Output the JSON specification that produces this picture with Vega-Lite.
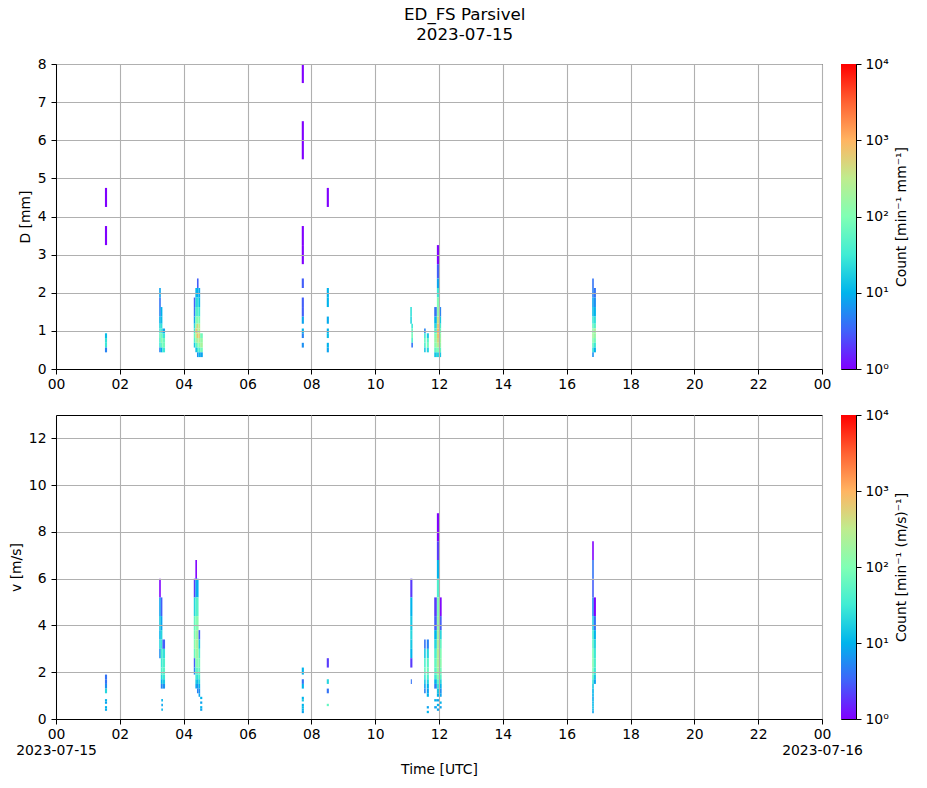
{
  "$schema": "https://vega.github.io/schema/vega-lite/v6.json",
  "padding": {"left": 8, "top": 6, "right": 10, "bottom": 8},
  "title": {"text": ["ED_FS Parsivel", "2023-07-15"], "anchor": "middle", "offset": 13, "dx": 6},
  "bounds": "flush",
  "columns": 2,
  "spacing": {"row": 46, "column": 19},
  "resolve": {"scale": {"x": "independent", "y": "independent", "color": "independent"}},
  "config": {
    "font": "DejaVu Sans",
    "view": {"stroke": "black", "strokeWidth": 1},
    "title": {"font": "DejaVu Sans", "fontSize": 16.7, "fontWeight": "normal", "color": "black", "lineHeight": 20},
    "axis": {
      "labelFont": "DejaVu Sans", "labelFontSize": 13.9, "labelColor": "black",
      "titleFont": "DejaVu Sans", "titleFontSize": 13.9, "titleFontWeight": "normal", "titleColor": "black",
      "tickColor": "black", "tickSize": 5, "domainColor": "black",
      "gridColor": "#b0b0b0", "gridWidth": 1.1, "gridOpacity": 1,
      "labelPadding": 4, "titlePadding": 5
    }
  },
  "datasets": {
    "cbar": [{"lo": 1, "hi": 10000}],
    "dsd": [
      {"t0":"2023-07-15T01:32Z","t1":"2023-07-15T01:36Z","lo":4.25,"hi":4.75,"n":1},
      {"t0":"2023-07-15T01:32Z","t1":"2023-07-15T01:36Z","lo":3.25,"hi":3.75,"n":1},
      {"t0":"2023-07-15T01:32Z","t1":"2023-07-15T01:36Z","lo":0.812,"hi":0.937,"n":12},
      {"t0":"2023-07-15T01:32Z","t1":"2023-07-15T01:36Z","lo":0.687,"hi":0.812,"n":25},
      {"t0":"2023-07-15T01:32Z","t1":"2023-07-15T01:36Z","lo":0.562,"hi":0.687,"n":30},
      {"t0":"2023-07-15T01:32Z","t1":"2023-07-15T01:36Z","lo":0.437,"hi":0.562,"n":5},

      {"t0":"2023-07-15T03:14Z","t1":"2023-07-15T03:17Z","lo":1.875,"hi":2.125,"n":8},
      {"t0":"2023-07-15T03:14Z","t1":"2023-07-15T03:17Z","lo":1.625,"hi":1.875,"n":4},
      {"t0":"2023-07-15T03:14Z","t1":"2023-07-15T03:17Z","lo":1.375,"hi":1.625,"n":5},
      {"t0":"2023-07-15T03:14Z","t1":"2023-07-15T03:17Z","lo":1.187,"hi":1.375,"n":10},
      {"t0":"2023-07-15T03:14Z","t1":"2023-07-15T03:17Z","lo":1.062,"hi":1.187,"n":20},
      {"t0":"2023-07-15T03:14Z","t1":"2023-07-15T03:17Z","lo":0.937,"hi":1.062,"n":30},
      {"t0":"2023-07-15T03:14Z","t1":"2023-07-15T03:17Z","lo":0.812,"hi":0.937,"n":60},
      {"t0":"2023-07-15T03:14Z","t1":"2023-07-15T03:17Z","lo":0.687,"hi":0.812,"n":40},
      {"t0":"2023-07-15T03:14Z","t1":"2023-07-15T03:17Z","lo":0.562,"hi":0.687,"n":30},
      {"t0":"2023-07-15T03:14Z","t1":"2023-07-15T03:17Z","lo":0.437,"hi":0.562,"n":5},
      {"t0":"2023-07-15T03:17Z","t1":"2023-07-15T03:20Z","lo":1.375,"hi":1.625,"n":10},
      {"t0":"2023-07-15T03:17Z","t1":"2023-07-15T03:20Z","lo":1.187,"hi":1.375,"n":12},
      {"t0":"2023-07-15T03:17Z","t1":"2023-07-15T03:20Z","lo":1.062,"hi":1.187,"n":25},
      {"t0":"2023-07-15T03:17Z","t1":"2023-07-15T03:20Z","lo":0.937,"hi":1.062,"n":35},
      {"t0":"2023-07-15T03:17Z","t1":"2023-07-15T03:20Z","lo":0.812,"hi":0.937,"n":80},
      {"t0":"2023-07-15T03:17Z","t1":"2023-07-15T03:20Z","lo":0.687,"hi":0.812,"n":120},
      {"t0":"2023-07-15T03:17Z","t1":"2023-07-15T03:20Z","lo":0.562,"hi":0.687,"n":60},
      {"t0":"2023-07-15T03:17Z","t1":"2023-07-15T03:20Z","lo":0.437,"hi":0.562,"n":10},
      {"t0":"2023-07-15T03:20Z","t1":"2023-07-15T03:25Z","lo":0.937,"hi":1.062,"n":8},
      {"t0":"2023-07-15T03:20Z","t1":"2023-07-15T03:25Z","lo":0.812,"hi":0.937,"n":30},
      {"t0":"2023-07-15T03:20Z","t1":"2023-07-15T03:25Z","lo":0.687,"hi":0.812,"n":70},
      {"t0":"2023-07-15T03:20Z","t1":"2023-07-15T03:25Z","lo":0.562,"hi":0.687,"n":80},
      {"t0":"2023-07-15T03:20Z","t1":"2023-07-15T03:25Z","lo":0.437,"hi":0.562,"n":30},

      {"t0":"2023-07-15T04:19Z","t1":"2023-07-15T04:22Z","lo":1.625,"hi":1.875,"n":3},
      {"t0":"2023-07-15T04:19Z","t1":"2023-07-15T04:22Z","lo":1.375,"hi":1.625,"n":4},
      {"t0":"2023-07-15T04:19Z","t1":"2023-07-15T04:22Z","lo":1.187,"hi":1.375,"n":8},
      {"t0":"2023-07-15T04:19Z","t1":"2023-07-15T04:22Z","lo":1.062,"hi":1.187,"n":20},
      {"t0":"2023-07-15T04:19Z","t1":"2023-07-15T04:22Z","lo":0.937,"hi":1.062,"n":30},
      {"t0":"2023-07-15T04:19Z","t1":"2023-07-15T04:22Z","lo":0.812,"hi":0.937,"n":60},
      {"t0":"2023-07-15T04:19Z","t1":"2023-07-15T04:22Z","lo":0.687,"hi":0.812,"n":40},
      {"t0":"2023-07-15T04:19Z","t1":"2023-07-15T04:22Z","lo":0.562,"hi":0.687,"n":15},
      {"t0":"2023-07-15T04:22Z","t1":"2023-07-15T04:25Z","lo":1.875,"hi":2.125,"n":10},
      {"t0":"2023-07-15T04:22Z","t1":"2023-07-15T04:25Z","lo":1.625,"hi":1.875,"n":20},
      {"t0":"2023-07-15T04:22Z","t1":"2023-07-15T04:25Z","lo":1.375,"hi":1.625,"n":40},
      {"t0":"2023-07-15T04:22Z","t1":"2023-07-15T04:25Z","lo":1.187,"hi":1.375,"n":100},
      {"t0":"2023-07-15T04:22Z","t1":"2023-07-15T04:25Z","lo":1.062,"hi":1.187,"n":200},
      {"t0":"2023-07-15T04:22Z","t1":"2023-07-15T04:25Z","lo":0.937,"hi":1.062,"n":700},
      {"t0":"2023-07-15T04:22Z","t1":"2023-07-15T04:25Z","lo":0.812,"hi":0.937,"n":300},
      {"t0":"2023-07-15T04:22Z","t1":"2023-07-15T04:25Z","lo":0.687,"hi":0.812,"n":150},
      {"t0":"2023-07-15T04:22Z","t1":"2023-07-15T04:25Z","lo":0.562,"hi":0.687,"n":50},
      {"t0":"2023-07-15T04:22Z","t1":"2023-07-15T04:25Z","lo":0.437,"hi":0.562,"n":12},
      {"t0":"2023-07-15T04:25Z","t1":"2023-07-15T04:28Z","lo":2.125,"hi":2.375,"n":3},
      {"t0":"2023-07-15T04:25Z","t1":"2023-07-15T04:28Z","lo":1.875,"hi":2.125,"n":10},
      {"t0":"2023-07-15T04:25Z","t1":"2023-07-15T04:28Z","lo":1.625,"hi":1.875,"n":25},
      {"t0":"2023-07-15T04:25Z","t1":"2023-07-15T04:28Z","lo":1.375,"hi":1.625,"n":45},
      {"t0":"2023-07-15T04:25Z","t1":"2023-07-15T04:28Z","lo":1.187,"hi":1.375,"n":120},
      {"t0":"2023-07-15T04:25Z","t1":"2023-07-15T04:28Z","lo":1.062,"hi":1.187,"n":500},
      {"t0":"2023-07-15T04:25Z","t1":"2023-07-15T04:28Z","lo":0.937,"hi":1.062,"n":300},
      {"t0":"2023-07-15T04:25Z","t1":"2023-07-15T04:28Z","lo":0.812,"hi":0.937,"n":800},
      {"t0":"2023-07-15T04:25Z","t1":"2023-07-15T04:28Z","lo":0.687,"hi":0.812,"n":250},
      {"t0":"2023-07-15T04:25Z","t1":"2023-07-15T04:28Z","lo":0.562,"hi":0.687,"n":100},
      {"t0":"2023-07-15T04:25Z","t1":"2023-07-15T04:28Z","lo":0.437,"hi":0.562,"n":30},
      {"t0":"2023-07-15T04:25Z","t1":"2023-07-15T04:28Z","lo":0.312,"hi":0.437,"n":6},
      {"t0":"2023-07-15T04:28Z","t1":"2023-07-15T04:31Z","lo":1.875,"hi":2.125,"n":8},
      {"t0":"2023-07-15T04:28Z","t1":"2023-07-15T04:31Z","lo":1.625,"hi":1.875,"n":12},
      {"t0":"2023-07-15T04:28Z","t1":"2023-07-15T04:31Z","lo":1.375,"hi":1.625,"n":30},
      {"t0":"2023-07-15T04:28Z","t1":"2023-07-15T04:31Z","lo":1.187,"hi":1.375,"n":90},
      {"t0":"2023-07-15T04:28Z","t1":"2023-07-15T04:31Z","lo":1.062,"hi":1.187,"n":250},
      {"t0":"2023-07-15T04:28Z","t1":"2023-07-15T04:31Z","lo":0.937,"hi":1.062,"n":300},
      {"t0":"2023-07-15T04:28Z","t1":"2023-07-15T04:31Z","lo":0.812,"hi":0.937,"n":500},
      {"t0":"2023-07-15T04:28Z","t1":"2023-07-15T04:31Z","lo":0.687,"hi":0.812,"n":300},
      {"t0":"2023-07-15T04:28Z","t1":"2023-07-15T04:31Z","lo":0.562,"hi":0.687,"n":120},
      {"t0":"2023-07-15T04:28Z","t1":"2023-07-15T04:31Z","lo":0.437,"hi":0.562,"n":40},
      {"t0":"2023-07-15T04:28Z","t1":"2023-07-15T04:31Z","lo":0.312,"hi":0.437,"n":10},
      {"t0":"2023-07-15T04:31Z","t1":"2023-07-15T04:36Z","lo":0.812,"hi":0.937,"n":80},
      {"t0":"2023-07-15T04:31Z","t1":"2023-07-15T04:36Z","lo":0.687,"hi":0.812,"n":150},
      {"t0":"2023-07-15T04:31Z","t1":"2023-07-15T04:36Z","lo":0.562,"hi":0.687,"n":200},
      {"t0":"2023-07-15T04:31Z","t1":"2023-07-15T04:36Z","lo":0.437,"hi":0.562,"n":80},
      {"t0":"2023-07-15T04:31Z","t1":"2023-07-15T04:36Z","lo":0.312,"hi":0.437,"n":8},

      {"t0":"2023-07-15T07:42Z","t1":"2023-07-15T07:46Z","lo":7.5,"hi":8.5,"n":1},
      {"t0":"2023-07-15T07:42Z","t1":"2023-07-15T07:46Z","lo":5.5,"hi":6.5,"n":1},
      {"t0":"2023-07-15T07:42Z","t1":"2023-07-15T07:46Z","lo":3.25,"hi":3.75,"n":1},
      {"t0":"2023-07-15T07:42Z","t1":"2023-07-15T07:46Z","lo":2.75,"hi":3.25,"n":1},
      {"t0":"2023-07-15T07:42Z","t1":"2023-07-15T07:46Z","lo":2.125,"hi":2.375,"n":3},
      {"t0":"2023-07-15T07:42Z","t1":"2023-07-15T07:46Z","lo":1.625,"hi":1.875,"n":3},
      {"t0":"2023-07-15T07:42Z","t1":"2023-07-15T07:46Z","lo":1.375,"hi":1.625,"n":3},
      {"t0":"2023-07-15T07:42Z","t1":"2023-07-15T07:46Z","lo":1.187,"hi":1.375,"n":8},
      {"t0":"2023-07-15T07:42Z","t1":"2023-07-15T07:46Z","lo":0.937,"hi":1.062,"n":10},
      {"t0":"2023-07-15T07:42Z","t1":"2023-07-15T07:46Z","lo":0.812,"hi":0.937,"n":5},
      {"t0":"2023-07-15T07:42Z","t1":"2023-07-15T07:46Z","lo":0.562,"hi":0.687,"n":6},

      {"t0":"2023-07-15T08:29Z","t1":"2023-07-15T08:33Z","lo":4.25,"hi":4.75,"n":1},
      {"t0":"2023-07-15T08:29Z","t1":"2023-07-15T08:33Z","lo":1.875,"hi":2.125,"n":10},
      {"t0":"2023-07-15T08:29Z","t1":"2023-07-15T08:33Z","lo":1.625,"hi":1.875,"n":10},
      {"t0":"2023-07-15T08:29Z","t1":"2023-07-15T08:33Z","lo":1.187,"hi":1.375,"n":9},
      {"t0":"2023-07-15T08:29Z","t1":"2023-07-15T08:33Z","lo":0.937,"hi":1.062,"n":10},
      {"t0":"2023-07-15T08:29Z","t1":"2023-07-15T08:33Z","lo":0.812,"hi":0.937,"n":12},
      {"t0":"2023-07-15T08:29Z","t1":"2023-07-15T08:33Z","lo":0.562,"hi":0.687,"n":10},
      {"t0":"2023-07-15T08:29Z","t1":"2023-07-15T08:33Z","lo":0.437,"hi":0.562,"n":8},

      {"t0":"2023-07-15T11:06Z","t1":"2023-07-15T11:09Z","lo":1.375,"hi":1.625,"n":25},
      {"t0":"2023-07-15T11:06Z","t1":"2023-07-15T11:09Z","lo":1.187,"hi":1.375,"n":20},
      {"t0":"2023-07-15T11:08Z","t1":"2023-07-15T11:11Z","lo":1.062,"hi":1.187,"n":30},
      {"t0":"2023-07-15T11:08Z","t1":"2023-07-15T11:11Z","lo":0.937,"hi":1.062,"n":60},
      {"t0":"2023-07-15T11:08Z","t1":"2023-07-15T11:11Z","lo":0.812,"hi":0.937,"n":80},
      {"t0":"2023-07-15T11:08Z","t1":"2023-07-15T11:11Z","lo":0.687,"hi":0.812,"n":40},
      {"t0":"2023-07-15T11:08Z","t1":"2023-07-15T11:11Z","lo":0.562,"hi":0.687,"n":4},

      {"t0":"2023-07-15T11:32Z","t1":"2023-07-15T11:35Z","lo":0.937,"hi":1.062,"n":5},
      {"t0":"2023-07-15T11:32Z","t1":"2023-07-15T11:35Z","lo":0.812,"hi":0.937,"n":30},
      {"t0":"2023-07-15T11:32Z","t1":"2023-07-15T11:35Z","lo":0.687,"hi":0.812,"n":60},
      {"t0":"2023-07-15T11:32Z","t1":"2023-07-15T11:35Z","lo":0.562,"hi":0.687,"n":40},
      {"t0":"2023-07-15T11:32Z","t1":"2023-07-15T11:35Z","lo":0.437,"hi":0.562,"n":15},
      {"t0":"2023-07-15T11:37Z","t1":"2023-07-15T11:41Z","lo":0.812,"hi":0.937,"n":15},
      {"t0":"2023-07-15T11:37Z","t1":"2023-07-15T11:41Z","lo":0.687,"hi":0.812,"n":50},
      {"t0":"2023-07-15T11:37Z","t1":"2023-07-15T11:41Z","lo":0.562,"hi":0.687,"n":80},
      {"t0":"2023-07-15T11:37Z","t1":"2023-07-15T11:41Z","lo":0.437,"hi":0.562,"n":20},

      {"t0":"2023-07-15T11:51Z","t1":"2023-07-15T11:56Z","lo":1.375,"hi":1.625,"n":4},
      {"t0":"2023-07-15T11:51Z","t1":"2023-07-15T11:56Z","lo":1.187,"hi":1.375,"n":10},
      {"t0":"2023-07-15T11:51Z","t1":"2023-07-15T11:56Z","lo":1.062,"hi":1.187,"n":20},
      {"t0":"2023-07-15T11:51Z","t1":"2023-07-15T11:56Z","lo":0.937,"hi":1.062,"n":40},
      {"t0":"2023-07-15T11:51Z","t1":"2023-07-15T11:56Z","lo":0.812,"hi":0.937,"n":100},
      {"t0":"2023-07-15T11:51Z","t1":"2023-07-15T11:56Z","lo":0.687,"hi":0.812,"n":150},
      {"t0":"2023-07-15T11:51Z","t1":"2023-07-15T11:56Z","lo":0.562,"hi":0.687,"n":120},
      {"t0":"2023-07-15T11:51Z","t1":"2023-07-15T11:56Z","lo":0.437,"hi":0.562,"n":60},
      {"t0":"2023-07-15T11:51Z","t1":"2023-07-15T11:56Z","lo":0.312,"hi":0.437,"n":15},
      {"t0":"2023-07-15T11:56Z","t1":"2023-07-15T12:00Z","lo":2.75,"hi":3.25,"n":1},
      {"t0":"2023-07-15T11:56Z","t1":"2023-07-15T12:00Z","lo":2.375,"hi":2.75,"n":3},
      {"t0":"2023-07-15T11:56Z","t1":"2023-07-15T12:00Z","lo":2.125,"hi":2.375,"n":8},
      {"t0":"2023-07-15T11:56Z","t1":"2023-07-15T12:00Z","lo":1.875,"hi":2.125,"n":30},
      {"t0":"2023-07-15T11:56Z","t1":"2023-07-15T12:00Z","lo":1.625,"hi":1.875,"n":100},
      {"t0":"2023-07-15T11:56Z","t1":"2023-07-15T12:00Z","lo":1.375,"hi":1.625,"n":150},
      {"t0":"2023-07-15T11:56Z","t1":"2023-07-15T12:00Z","lo":1.187,"hi":1.375,"n":400},
      {"t0":"2023-07-15T11:56Z","t1":"2023-07-15T12:00Z","lo":1.062,"hi":1.187,"n":700},
      {"t0":"2023-07-15T11:56Z","t1":"2023-07-15T12:00Z","lo":0.937,"hi":1.062,"n":900},
      {"t0":"2023-07-15T11:56Z","t1":"2023-07-15T12:00Z","lo":0.812,"hi":0.937,"n":800},
      {"t0":"2023-07-15T11:56Z","t1":"2023-07-15T12:00Z","lo":0.687,"hi":0.812,"n":500},
      {"t0":"2023-07-15T11:56Z","t1":"2023-07-15T12:00Z","lo":0.562,"hi":0.687,"n":300},
      {"t0":"2023-07-15T11:56Z","t1":"2023-07-15T12:00Z","lo":0.437,"hi":0.562,"n":100},
      {"t0":"2023-07-15T11:56Z","t1":"2023-07-15T12:00Z","lo":0.312,"hi":0.437,"n":20},
      {"t0":"2023-07-15T12:00Z","t1":"2023-07-15T12:04Z","lo":1.375,"hi":1.625,"n":5},
      {"t0":"2023-07-15T12:00Z","t1":"2023-07-15T12:04Z","lo":1.187,"hi":1.375,"n":15},
      {"t0":"2023-07-15T12:00Z","t1":"2023-07-15T12:04Z","lo":1.062,"hi":1.187,"n":40},
      {"t0":"2023-07-15T12:00Z","t1":"2023-07-15T12:04Z","lo":0.937,"hi":1.062,"n":80},
      {"t0":"2023-07-15T12:00Z","t1":"2023-07-15T12:04Z","lo":0.812,"hi":0.937,"n":150},
      {"t0":"2023-07-15T12:00Z","t1":"2023-07-15T12:04Z","lo":0.687,"hi":0.812,"n":200},
      {"t0":"2023-07-15T12:00Z","t1":"2023-07-15T12:04Z","lo":0.562,"hi":0.687,"n":150},
      {"t0":"2023-07-15T12:00Z","t1":"2023-07-15T12:04Z","lo":0.437,"hi":0.562,"n":60},
      {"t0":"2023-07-15T12:00Z","t1":"2023-07-15T12:04Z","lo":0.312,"hi":0.437,"n":15},

      {"t0":"2023-07-15T16:48Z","t1":"2023-07-15T16:51Z","lo":2.125,"hi":2.375,"n":4},
      {"t0":"2023-07-15T16:48Z","t1":"2023-07-15T16:51Z","lo":1.875,"hi":2.125,"n":5},
      {"t0":"2023-07-15T16:48Z","t1":"2023-07-15T16:51Z","lo":1.625,"hi":1.875,"n":8},
      {"t0":"2023-07-15T16:48Z","t1":"2023-07-15T16:51Z","lo":1.375,"hi":1.625,"n":12},
      {"t0":"2023-07-15T16:48Z","t1":"2023-07-15T16:51Z","lo":1.187,"hi":1.375,"n":30},
      {"t0":"2023-07-15T16:48Z","t1":"2023-07-15T16:51Z","lo":1.062,"hi":1.187,"n":60},
      {"t0":"2023-07-15T16:48Z","t1":"2023-07-15T16:51Z","lo":0.937,"hi":1.062,"n":150},
      {"t0":"2023-07-15T16:48Z","t1":"2023-07-15T16:51Z","lo":0.812,"hi":0.937,"n":200},
      {"t0":"2023-07-15T16:48Z","t1":"2023-07-15T16:51Z","lo":0.687,"hi":0.812,"n":120},
      {"t0":"2023-07-15T16:48Z","t1":"2023-07-15T16:51Z","lo":0.562,"hi":0.687,"n":60},
      {"t0":"2023-07-15T16:48Z","t1":"2023-07-15T16:51Z","lo":0.437,"hi":0.562,"n":25},
      {"t0":"2023-07-15T16:48Z","t1":"2023-07-15T16:51Z","lo":0.312,"hi":0.437,"n":6},
      {"t0":"2023-07-15T16:51Z","t1":"2023-07-15T16:55Z","lo":1.875,"hi":2.125,"n":4},
      {"t0":"2023-07-15T16:51Z","t1":"2023-07-15T16:55Z","lo":1.625,"hi":1.875,"n":6},
      {"t0":"2023-07-15T16:51Z","t1":"2023-07-15T16:55Z","lo":1.375,"hi":1.625,"n":10},
      {"t0":"2023-07-15T16:51Z","t1":"2023-07-15T16:55Z","lo":1.187,"hi":1.375,"n":25},
      {"t0":"2023-07-15T16:51Z","t1":"2023-07-15T16:55Z","lo":1.062,"hi":1.187,"n":50},
      {"t0":"2023-07-15T16:51Z","t1":"2023-07-15T16:55Z","lo":0.937,"hi":1.062,"n":200},
      {"t0":"2023-07-15T16:51Z","t1":"2023-07-15T16:55Z","lo":0.812,"hi":0.937,"n":150},
      {"t0":"2023-07-15T16:51Z","t1":"2023-07-15T16:55Z","lo":0.687,"hi":0.812,"n":80},
      {"t0":"2023-07-15T16:51Z","t1":"2023-07-15T16:55Z","lo":0.562,"hi":0.687,"n":30},
      {"t0":"2023-07-15T16:51Z","t1":"2023-07-15T16:55Z","lo":0.437,"hi":0.562,"n":10}
    ],
    "vel": [
      {"t0":"2023-07-15T01:32Z","t1":"2023-07-15T01:36Z","lo":1.7,"hi":1.9,"n":4},
      {"t0":"2023-07-15T01:32Z","t1":"2023-07-15T01:36Z","lo":1.5,"hi":1.7,"n":4},
      {"t0":"2023-07-15T01:32Z","t1":"2023-07-15T01:36Z","lo":1.3,"hi":1.5,"n":6},
      {"t0":"2023-07-15T01:32Z","t1":"2023-07-15T01:36Z","lo":1.1,"hi":1.3,"n":20},
      {"t0":"2023-07-15T01:32Z","t1":"2023-07-15T01:36Z","lo":0.75,"hi":0.85,"n":10},
      {"t0":"2023-07-15T01:32Z","t1":"2023-07-15T01:36Z","lo":0.65,"hi":0.75,"n":8},
      {"t0":"2023-07-15T01:32Z","t1":"2023-07-15T01:36Z","lo":0.45,"hi":0.55,"n":10},
      {"t0":"2023-07-15T01:32Z","t1":"2023-07-15T01:36Z","lo":0.35,"hi":0.45,"n":9},

      {"t0":"2023-07-15T03:14Z","t1":"2023-07-15T03:17Z","lo":5.2,"hi":6.0,"n":1},
      {"t0":"2023-07-15T03:14Z","t1":"2023-07-15T03:17Z","lo":4.4,"hi":5.2,"n":8},
      {"t0":"2023-07-15T03:14Z","t1":"2023-07-15T03:17Z","lo":3.8,"hi":4.4,"n":15},
      {"t0":"2023-07-15T03:14Z","t1":"2023-07-15T03:17Z","lo":3.4,"hi":3.8,"n":10},
      {"t0":"2023-07-15T03:14Z","t1":"2023-07-15T03:17Z","lo":3.0,"hi":3.4,"n":20},
      {"t0":"2023-07-15T03:14Z","t1":"2023-07-15T03:17Z","lo":2.6,"hi":3.0,"n":6},
      {"t0":"2023-07-15T03:17Z","t1":"2023-07-15T03:20Z","lo":4.4,"hi":5.2,"n":3},
      {"t0":"2023-07-15T03:17Z","t1":"2023-07-15T03:20Z","lo":3.8,"hi":4.4,"n":8},
      {"t0":"2023-07-15T03:17Z","t1":"2023-07-15T03:20Z","lo":3.4,"hi":3.8,"n":20},
      {"t0":"2023-07-15T03:17Z","t1":"2023-07-15T03:20Z","lo":3.0,"hi":3.4,"n":30},
      {"t0":"2023-07-15T03:17Z","t1":"2023-07-15T03:20Z","lo":2.6,"hi":3.0,"n":40},
      {"t0":"2023-07-15T03:17Z","t1":"2023-07-15T03:20Z","lo":2.2,"hi":2.6,"n":30},
      {"t0":"2023-07-15T03:17Z","t1":"2023-07-15T03:20Z","lo":1.9,"hi":2.2,"n":40},
      {"t0":"2023-07-15T03:17Z","t1":"2023-07-15T03:20Z","lo":1.7,"hi":1.9,"n":20},
      {"t0":"2023-07-15T03:17Z","t1":"2023-07-15T03:20Z","lo":1.5,"hi":1.7,"n":10},
      {"t0":"2023-07-15T03:17Z","t1":"2023-07-15T03:20Z","lo":1.3,"hi":1.5,"n":5},
      {"t0":"2023-07-15T03:20Z","t1":"2023-07-15T03:25Z","lo":3.0,"hi":3.4,"n":3},
      {"t0":"2023-07-15T03:20Z","t1":"2023-07-15T03:25Z","lo":2.6,"hi":3.0,"n":25},
      {"t0":"2023-07-15T03:20Z","t1":"2023-07-15T03:25Z","lo":2.2,"hi":2.6,"n":40},
      {"t0":"2023-07-15T03:20Z","t1":"2023-07-15T03:25Z","lo":1.9,"hi":2.2,"n":50},
      {"t0":"2023-07-15T03:20Z","t1":"2023-07-15T03:25Z","lo":1.7,"hi":1.9,"n":30},
      {"t0":"2023-07-15T03:20Z","t1":"2023-07-15T03:25Z","lo":1.5,"hi":1.7,"n":15},
      {"t0":"2023-07-15T03:20Z","t1":"2023-07-15T03:25Z","lo":1.3,"hi":1.5,"n":6},
      {"t0":"2023-07-15T03:18Z","t1":"2023-07-15T03:21Z","lo":0.75,"hi":0.85,"n":10},
      {"t0":"2023-07-15T03:18Z","t1":"2023-07-15T03:21Z","lo":0.55,"hi":0.65,"n":8},
      {"t0":"2023-07-15T03:18Z","t1":"2023-07-15T03:21Z","lo":0.35,"hi":0.45,"n":10},

      {"t0":"2023-07-15T04:19Z","t1":"2023-07-15T04:22Z","lo":5.2,"hi":6.0,"n":2},
      {"t0":"2023-07-15T04:19Z","t1":"2023-07-15T04:22Z","lo":4.4,"hi":5.2,"n":20},
      {"t0":"2023-07-15T04:19Z","t1":"2023-07-15T04:22Z","lo":3.8,"hi":4.4,"n":60},
      {"t0":"2023-07-15T04:19Z","t1":"2023-07-15T04:22Z","lo":3.4,"hi":3.8,"n":80},
      {"t0":"2023-07-15T04:19Z","t1":"2023-07-15T04:22Z","lo":3.0,"hi":3.4,"n":100},
      {"t0":"2023-07-15T04:19Z","t1":"2023-07-15T04:22Z","lo":2.6,"hi":3.0,"n":60},
      {"t0":"2023-07-15T04:19Z","t1":"2023-07-15T04:22Z","lo":2.2,"hi":2.6,"n":3},
      {"t0":"2023-07-15T04:19Z","t1":"2023-07-15T04:22Z","lo":1.9,"hi":2.2,"n":5},
      {"t0":"2023-07-15T04:22Z","t1":"2023-07-15T04:25Z","lo":6.0,"hi":6.8,"n":1},
      {"t0":"2023-07-15T04:22Z","t1":"2023-07-15T04:25Z","lo":5.2,"hi":6.0,"n":8},
      {"t0":"2023-07-15T04:22Z","t1":"2023-07-15T04:25Z","lo":4.4,"hi":5.2,"n":40},
      {"t0":"2023-07-15T04:22Z","t1":"2023-07-15T04:25Z","lo":3.8,"hi":4.4,"n":100},
      {"t0":"2023-07-15T04:22Z","t1":"2023-07-15T04:25Z","lo":3.4,"hi":3.8,"n":150},
      {"t0":"2023-07-15T04:22Z","t1":"2023-07-15T04:25Z","lo":3.0,"hi":3.4,"n":200},
      {"t0":"2023-07-15T04:22Z","t1":"2023-07-15T04:25Z","lo":2.6,"hi":3.0,"n":150},
      {"t0":"2023-07-15T04:22Z","t1":"2023-07-15T04:25Z","lo":2.2,"hi":2.6,"n":100},
      {"t0":"2023-07-15T04:22Z","t1":"2023-07-15T04:25Z","lo":1.9,"hi":2.2,"n":50},
      {"t0":"2023-07-15T04:22Z","t1":"2023-07-15T04:25Z","lo":1.7,"hi":1.9,"n":30},
      {"t0":"2023-07-15T04:22Z","t1":"2023-07-15T04:25Z","lo":1.5,"hi":1.7,"n":15},
      {"t0":"2023-07-15T04:22Z","t1":"2023-07-15T04:25Z","lo":1.3,"hi":1.5,"n":8},
      {"t0":"2023-07-15T04:25Z","t1":"2023-07-15T04:28Z","lo":5.2,"hi":6.0,"n":10},
      {"t0":"2023-07-15T04:25Z","t1":"2023-07-15T04:28Z","lo":4.4,"hi":5.2,"n":50},
      {"t0":"2023-07-15T04:25Z","t1":"2023-07-15T04:28Z","lo":3.8,"hi":4.4,"n":120},
      {"t0":"2023-07-15T04:25Z","t1":"2023-07-15T04:28Z","lo":3.4,"hi":3.8,"n":200},
      {"t0":"2023-07-15T04:25Z","t1":"2023-07-15T04:28Z","lo":3.0,"hi":3.4,"n":250},
      {"t0":"2023-07-15T04:25Z","t1":"2023-07-15T04:28Z","lo":2.6,"hi":3.0,"n":200},
      {"t0":"2023-07-15T04:25Z","t1":"2023-07-15T04:28Z","lo":2.2,"hi":2.6,"n":120},
      {"t0":"2023-07-15T04:25Z","t1":"2023-07-15T04:28Z","lo":1.9,"hi":2.2,"n":60},
      {"t0":"2023-07-15T04:25Z","t1":"2023-07-15T04:28Z","lo":1.7,"hi":1.9,"n":25},
      {"t0":"2023-07-15T04:25Z","t1":"2023-07-15T04:28Z","lo":1.5,"hi":1.7,"n":12},
      {"t0":"2023-07-15T04:25Z","t1":"2023-07-15T04:28Z","lo":1.3,"hi":1.5,"n":6},
      {"t0":"2023-07-15T04:25Z","t1":"2023-07-15T04:28Z","lo":1.1,"hi":1.3,"n":5},
      {"t0":"2023-07-15T04:28Z","t1":"2023-07-15T04:31Z","lo":3.4,"hi":3.8,"n":3},
      {"t0":"2023-07-15T04:28Z","t1":"2023-07-15T04:31Z","lo":3.0,"hi":3.4,"n":15},
      {"t0":"2023-07-15T04:28Z","t1":"2023-07-15T04:31Z","lo":2.6,"hi":3.0,"n":40},
      {"t0":"2023-07-15T04:28Z","t1":"2023-07-15T04:31Z","lo":2.2,"hi":2.6,"n":80},
      {"t0":"2023-07-15T04:28Z","t1":"2023-07-15T04:31Z","lo":1.9,"hi":2.2,"n":60},
      {"t0":"2023-07-15T04:28Z","t1":"2023-07-15T04:31Z","lo":1.7,"hi":1.9,"n":40},
      {"t0":"2023-07-15T04:28Z","t1":"2023-07-15T04:31Z","lo":1.5,"hi":1.7,"n":20},
      {"t0":"2023-07-15T04:28Z","t1":"2023-07-15T04:31Z","lo":1.3,"hi":1.5,"n":10},
      {"t0":"2023-07-15T04:28Z","t1":"2023-07-15T04:31Z","lo":1.1,"hi":1.3,"n":6},
      {"t0":"2023-07-15T04:28Z","t1":"2023-07-15T04:31Z","lo":0.95,"hi":1.1,"n":8},
      {"t0":"2023-07-15T04:31Z","t1":"2023-07-15T04:35Z","lo":0.85,"hi":0.95,"n":10},
      {"t0":"2023-07-15T04:31Z","t1":"2023-07-15T04:35Z","lo":0.65,"hi":0.75,"n":8},
      {"t0":"2023-07-15T04:31Z","t1":"2023-07-15T04:35Z","lo":0.45,"hi":0.55,"n":10},
      {"t0":"2023-07-15T04:31Z","t1":"2023-07-15T04:35Z","lo":0.35,"hi":0.45,"n":8},

      {"t0":"2023-07-15T07:42Z","t1":"2023-07-15T07:46Z","lo":1.9,"hi":2.2,"n":10},
      {"t0":"2023-07-15T07:42Z","t1":"2023-07-15T07:46Z","lo":1.5,"hi":1.7,"n":4},
      {"t0":"2023-07-15T07:42Z","t1":"2023-07-15T07:46Z","lo":1.3,"hi":1.5,"n":10},
      {"t0":"2023-07-15T07:42Z","t1":"2023-07-15T07:46Z","lo":0.85,"hi":0.95,"n":10},
      {"t0":"2023-07-15T07:42Z","t1":"2023-07-15T07:46Z","lo":0.75,"hi":0.85,"n":15},
      {"t0":"2023-07-15T07:42Z","t1":"2023-07-15T07:46Z","lo":0.55,"hi":0.65,"n":10},
      {"t0":"2023-07-15T07:42Z","t1":"2023-07-15T07:46Z","lo":0.45,"hi":0.55,"n":12},
      {"t0":"2023-07-15T07:42Z","t1":"2023-07-15T07:46Z","lo":0.35,"hi":0.45,"n":10},
      {"t0":"2023-07-15T07:42Z","t1":"2023-07-15T07:46Z","lo":0.25,"hi":0.35,"n":8},

      {"t0":"2023-07-15T08:29Z","t1":"2023-07-15T08:33Z","lo":2.2,"hi":2.6,"n":2},
      {"t0":"2023-07-15T08:29Z","t1":"2023-07-15T08:33Z","lo":1.5,"hi":1.7,"n":20},
      {"t0":"2023-07-15T08:29Z","t1":"2023-07-15T08:33Z","lo":1.1,"hi":1.3,"n":4},
      {"t0":"2023-07-15T08:29Z","t1":"2023-07-15T08:33Z","lo":0.55,"hi":0.65,"n":60},

      {"t0":"2023-07-15T11:06Z","t1":"2023-07-15T11:10Z","lo":5.2,"hi":6.0,"n":2},
      {"t0":"2023-07-15T11:06Z","t1":"2023-07-15T11:10Z","lo":4.4,"hi":5.2,"n":10},
      {"t0":"2023-07-15T11:06Z","t1":"2023-07-15T11:10Z","lo":3.8,"hi":4.4,"n":15},
      {"t0":"2023-07-15T11:06Z","t1":"2023-07-15T11:10Z","lo":3.4,"hi":3.8,"n":20},
      {"t0":"2023-07-15T11:06Z","t1":"2023-07-15T11:10Z","lo":3.0,"hi":3.4,"n":15},
      {"t0":"2023-07-15T11:06Z","t1":"2023-07-15T11:10Z","lo":2.6,"hi":3.0,"n":10},
      {"t0":"2023-07-15T11:06Z","t1":"2023-07-15T11:10Z","lo":2.2,"hi":2.6,"n":2},
      {"t0":"2023-07-15T11:07Z","t1":"2023-07-15T11:09Z","lo":1.5,"hi":1.7,"n":4},

      {"t0":"2023-07-15T11:32Z","t1":"2023-07-15T11:35Z","lo":3.0,"hi":3.4,"n":4},
      {"t0":"2023-07-15T11:32Z","t1":"2023-07-15T11:35Z","lo":2.6,"hi":3.0,"n":15},
      {"t0":"2023-07-15T11:32Z","t1":"2023-07-15T11:35Z","lo":2.2,"hi":2.6,"n":40},
      {"t0":"2023-07-15T11:32Z","t1":"2023-07-15T11:35Z","lo":1.9,"hi":2.2,"n":60},
      {"t0":"2023-07-15T11:32Z","t1":"2023-07-15T11:35Z","lo":1.7,"hi":1.9,"n":30},
      {"t0":"2023-07-15T11:32Z","t1":"2023-07-15T11:35Z","lo":1.5,"hi":1.7,"n":15},
      {"t0":"2023-07-15T11:32Z","t1":"2023-07-15T11:35Z","lo":1.3,"hi":1.5,"n":8},
      {"t0":"2023-07-15T11:32Z","t1":"2023-07-15T11:35Z","lo":1.1,"hi":1.3,"n":5},
      {"t0":"2023-07-15T11:37Z","t1":"2023-07-15T11:41Z","lo":3.0,"hi":3.4,"n":5},
      {"t0":"2023-07-15T11:37Z","t1":"2023-07-15T11:41Z","lo":2.6,"hi":3.0,"n":20},
      {"t0":"2023-07-15T11:37Z","t1":"2023-07-15T11:41Z","lo":2.2,"hi":2.6,"n":50},
      {"t0":"2023-07-15T11:37Z","t1":"2023-07-15T11:41Z","lo":1.9,"hi":2.2,"n":70},
      {"t0":"2023-07-15T11:37Z","t1":"2023-07-15T11:41Z","lo":1.7,"hi":1.9,"n":40},
      {"t0":"2023-07-15T11:37Z","t1":"2023-07-15T11:41Z","lo":1.5,"hi":1.7,"n":20},
      {"t0":"2023-07-15T11:37Z","t1":"2023-07-15T11:41Z","lo":1.3,"hi":1.5,"n":10},
      {"t0":"2023-07-15T11:37Z","t1":"2023-07-15T11:41Z","lo":1.1,"hi":1.3,"n":8},
      {"t0":"2023-07-15T11:37Z","t1":"2023-07-15T11:41Z","lo":0.95,"hi":1.1,"n":10},
      {"t0":"2023-07-15T11:37Z","t1":"2023-07-15T11:41Z","lo":0.45,"hi":0.55,"n":8},
      {"t0":"2023-07-15T11:37Z","t1":"2023-07-15T11:41Z","lo":0.25,"hi":0.35,"n":10},

      {"t0":"2023-07-15T11:51Z","t1":"2023-07-15T11:56Z","lo":4.4,"hi":5.2,"n":2},
      {"t0":"2023-07-15T11:51Z","t1":"2023-07-15T11:56Z","lo":3.8,"hi":4.4,"n":3},
      {"t0":"2023-07-15T11:51Z","t1":"2023-07-15T11:56Z","lo":3.4,"hi":3.8,"n":10},
      {"t0":"2023-07-15T11:51Z","t1":"2023-07-15T11:56Z","lo":3.0,"hi":3.4,"n":20},
      {"t0":"2023-07-15T11:51Z","t1":"2023-07-15T11:56Z","lo":2.6,"hi":3.0,"n":40},
      {"t0":"2023-07-15T11:51Z","t1":"2023-07-15T11:56Z","lo":2.2,"hi":2.6,"n":60},
      {"t0":"2023-07-15T11:51Z","t1":"2023-07-15T11:56Z","lo":1.9,"hi":2.2,"n":50},
      {"t0":"2023-07-15T11:51Z","t1":"2023-07-15T11:56Z","lo":1.7,"hi":1.9,"n":30},
      {"t0":"2023-07-15T11:51Z","t1":"2023-07-15T11:56Z","lo":1.5,"hi":1.7,"n":10},
      {"t0":"2023-07-15T11:51Z","t1":"2023-07-15T11:56Z","lo":1.3,"hi":1.5,"n":5},
      {"t0":"2023-07-15T11:51Z","t1":"2023-07-15T11:56Z","lo":0.75,"hi":0.85,"n":10},
      {"t0":"2023-07-15T11:51Z","t1":"2023-07-15T11:56Z","lo":0.45,"hi":0.55,"n":8},
      {"t0":"2023-07-15T11:56Z","t1":"2023-07-15T12:00Z","lo":7.6,"hi":8.8,"n":1},
      {"t0":"2023-07-15T11:56Z","t1":"2023-07-15T12:00Z","lo":6.8,"hi":7.6,"n":2},
      {"t0":"2023-07-15T11:56Z","t1":"2023-07-15T12:00Z","lo":6.0,"hi":6.8,"n":10},
      {"t0":"2023-07-15T11:56Z","t1":"2023-07-15T12:00Z","lo":5.2,"hi":6.0,"n":40},
      {"t0":"2023-07-15T11:56Z","t1":"2023-07-15T12:00Z","lo":4.4,"hi":5.2,"n":100},
      {"t0":"2023-07-15T11:56Z","t1":"2023-07-15T12:00Z","lo":3.8,"hi":4.4,"n":150},
      {"t0":"2023-07-15T11:56Z","t1":"2023-07-15T12:00Z","lo":3.4,"hi":3.8,"n":200},
      {"t0":"2023-07-15T11:56Z","t1":"2023-07-15T12:00Z","lo":3.0,"hi":3.4,"n":250},
      {"t0":"2023-07-15T11:56Z","t1":"2023-07-15T12:00Z","lo":2.6,"hi":3.0,"n":300},
      {"t0":"2023-07-15T11:56Z","t1":"2023-07-15T12:00Z","lo":2.2,"hi":2.6,"n":250},
      {"t0":"2023-07-15T11:56Z","t1":"2023-07-15T12:00Z","lo":1.9,"hi":2.2,"n":200},
      {"t0":"2023-07-15T11:56Z","t1":"2023-07-15T12:00Z","lo":1.7,"hi":1.9,"n":120},
      {"t0":"2023-07-15T11:56Z","t1":"2023-07-15T12:00Z","lo":1.5,"hi":1.7,"n":60},
      {"t0":"2023-07-15T11:56Z","t1":"2023-07-15T12:00Z","lo":1.3,"hi":1.5,"n":30},
      {"t0":"2023-07-15T11:56Z","t1":"2023-07-15T12:00Z","lo":1.1,"hi":1.3,"n":15},
      {"t0":"2023-07-15T11:56Z","t1":"2023-07-15T12:00Z","lo":0.95,"hi":1.1,"n":10},
      {"t0":"2023-07-15T11:56Z","t1":"2023-07-15T12:00Z","lo":0.75,"hi":0.85,"n":8},
      {"t0":"2023-07-15T11:56Z","t1":"2023-07-15T12:00Z","lo":0.55,"hi":0.65,"n":10},
      {"t0":"2023-07-15T11:56Z","t1":"2023-07-15T12:00Z","lo":0.35,"hi":0.45,"n":8},
      {"t0":"2023-07-15T12:00Z","t1":"2023-07-15T12:05Z","lo":4.4,"hi":5.2,"n":1},
      {"t0":"2023-07-15T12:00Z","t1":"2023-07-15T12:05Z","lo":3.8,"hi":4.4,"n":3},
      {"t0":"2023-07-15T12:00Z","t1":"2023-07-15T12:05Z","lo":3.4,"hi":3.8,"n":20},
      {"t0":"2023-07-15T12:00Z","t1":"2023-07-15T12:05Z","lo":3.0,"hi":3.4,"n":60},
      {"t0":"2023-07-15T12:00Z","t1":"2023-07-15T12:05Z","lo":2.6,"hi":3.0,"n":100},
      {"t0":"2023-07-15T12:00Z","t1":"2023-07-15T12:05Z","lo":2.2,"hi":2.6,"n":120},
      {"t0":"2023-07-15T12:00Z","t1":"2023-07-15T12:05Z","lo":1.9,"hi":2.2,"n":80},
      {"t0":"2023-07-15T12:00Z","t1":"2023-07-15T12:05Z","lo":1.7,"hi":1.9,"n":50},
      {"t0":"2023-07-15T12:00Z","t1":"2023-07-15T12:05Z","lo":1.5,"hi":1.7,"n":20},
      {"t0":"2023-07-15T12:00Z","t1":"2023-07-15T12:05Z","lo":1.3,"hi":1.5,"n":10},
      {"t0":"2023-07-15T12:00Z","t1":"2023-07-15T12:05Z","lo":1.1,"hi":1.3,"n":6},
      {"t0":"2023-07-15T12:00Z","t1":"2023-07-15T12:05Z","lo":0.95,"hi":1.1,"n":8},
      {"t0":"2023-07-15T12:00Z","t1":"2023-07-15T12:05Z","lo":0.65,"hi":0.75,"n":10},
      {"t0":"2023-07-15T12:00Z","t1":"2023-07-15T12:05Z","lo":0.45,"hi":0.55,"n":8},

      {"t0":"2023-07-15T16:48Z","t1":"2023-07-15T16:51Z","lo":6.8,"hi":7.6,"n":1},
      {"t0":"2023-07-15T16:48Z","t1":"2023-07-15T16:51Z","lo":6.0,"hi":6.8,"n":4},
      {"t0":"2023-07-15T16:48Z","t1":"2023-07-15T16:51Z","lo":5.2,"hi":6.0,"n":3},
      {"t0":"2023-07-15T16:48Z","t1":"2023-07-15T16:51Z","lo":4.4,"hi":5.2,"n":6},
      {"t0":"2023-07-15T16:48Z","t1":"2023-07-15T16:51Z","lo":3.8,"hi":4.4,"n":20},
      {"t0":"2023-07-15T16:48Z","t1":"2023-07-15T16:51Z","lo":3.4,"hi":3.8,"n":40},
      {"t0":"2023-07-15T16:48Z","t1":"2023-07-15T16:51Z","lo":3.0,"hi":3.4,"n":60},
      {"t0":"2023-07-15T16:48Z","t1":"2023-07-15T16:51Z","lo":2.6,"hi":3.0,"n":100},
      {"t0":"2023-07-15T16:48Z","t1":"2023-07-15T16:51Z","lo":2.2,"hi":2.6,"n":120},
      {"t0":"2023-07-15T16:48Z","t1":"2023-07-15T16:51Z","lo":1.9,"hi":2.2,"n":100},
      {"t0":"2023-07-15T16:48Z","t1":"2023-07-15T16:51Z","lo":1.7,"hi":1.9,"n":60},
      {"t0":"2023-07-15T16:48Z","t1":"2023-07-15T16:51Z","lo":1.5,"hi":1.7,"n":30},
      {"t0":"2023-07-15T16:48Z","t1":"2023-07-15T16:51Z","lo":1.3,"hi":1.5,"n":15},
      {"t0":"2023-07-15T16:48Z","t1":"2023-07-15T16:51Z","lo":1.1,"hi":1.3,"n":10},
      {"t0":"2023-07-15T16:48Z","t1":"2023-07-15T16:51Z","lo":0.95,"hi":1.1,"n":10},
      {"t0":"2023-07-15T16:48Z","t1":"2023-07-15T16:51Z","lo":0.85,"hi":0.95,"n":8},
      {"t0":"2023-07-15T16:48Z","t1":"2023-07-15T16:51Z","lo":0.75,"hi":0.85,"n":10},
      {"t0":"2023-07-15T16:48Z","t1":"2023-07-15T16:51Z","lo":0.65,"hi":0.75,"n":10},
      {"t0":"2023-07-15T16:48Z","t1":"2023-07-15T16:51Z","lo":0.55,"hi":0.65,"n":12},
      {"t0":"2023-07-15T16:48Z","t1":"2023-07-15T16:51Z","lo":0.45,"hi":0.55,"n":12},
      {"t0":"2023-07-15T16:48Z","t1":"2023-07-15T16:51Z","lo":0.35,"hi":0.45,"n":10},
      {"t0":"2023-07-15T16:48Z","t1":"2023-07-15T16:51Z","lo":0.25,"hi":0.35,"n":8},
      {"t0":"2023-07-15T16:51Z","t1":"2023-07-15T16:55Z","lo":4.4,"hi":5.2,"n":1},
      {"t0":"2023-07-15T16:51Z","t1":"2023-07-15T16:55Z","lo":3.8,"hi":4.4,"n":4},
      {"t0":"2023-07-15T16:51Z","t1":"2023-07-15T16:55Z","lo":3.4,"hi":3.8,"n":10},
      {"t0":"2023-07-15T16:51Z","t1":"2023-07-15T16:55Z","lo":3.0,"hi":3.4,"n":20},
      {"t0":"2023-07-15T16:51Z","t1":"2023-07-15T16:55Z","lo":2.6,"hi":3.0,"n":30},
      {"t0":"2023-07-15T16:51Z","t1":"2023-07-15T16:55Z","lo":2.2,"hi":2.6,"n":40},
      {"t0":"2023-07-15T16:51Z","t1":"2023-07-15T16:55Z","lo":1.9,"hi":2.2,"n":30},
      {"t0":"2023-07-15T16:51Z","t1":"2023-07-15T16:55Z","lo":1.7,"hi":1.9,"n":15},
      {"t0":"2023-07-15T16:51Z","t1":"2023-07-15T16:55Z","lo":1.5,"hi":1.7,"n":8}
    ]
  },
  "concat": [
    {
      "width": 766, "height": 305,
      "data": {"name": "dsd"},
      "mark": {"type": "rect", "clip": true, "strokeWidth": 0},
      "encoding": {
        "x": {"field": "t0", "type": "temporal",
              "scale": {"type": "utc", "domain": [1689379200000, 1689465600000]},
              "axis": {"title": null, "zindex": 1, "labelFlush": false, "labelOverlap": false, "labelPadding": 3,
                       "values": [1689379200000,1689386400000,1689393600000,1689400800000,1689408000000,1689415200000,1689422400000,1689429600000,1689436800000,1689444000000,1689451200000,1689458400000,1689465600000],
                       "labelExpr": "utcFormat(datum.value, '%H')"}},
        "x2": {"field": "t1"},
        "y": {"field": "lo", "type": "quantitative",
              "scale": {"domain": [0, 8], "nice": false, "zero": false},
              "axis": {"title": "D [mm]", "zindex": 1, "values": [0,1,2,3,4,5,6,7,8], "labelPadding": 5}},
        "y2": {"field": "hi"},
        "color": {"field": "n", "type": "quantitative", "legend": null,
                  "scale": {"type": "log", "domain": [1, 3.1623, 10, 31.623, 100, 316.23, 1000, 3162.3, 10000],
                            "range": ["#8000ff", "#4062fa", "#00b4ec", "#40ecd4", "#80ffb4", "#bfec8e", "#ffb462", "#ff6232", "#ff0000"],
                            "interpolate": "rgb"}}
      }
    },
    {
      "width": 15, "height": 305,
      "data": {"name": "cbar"},
      "mark": {"type": "rect", "fill": {"gradient": "linear", "x1": 0, "y1": 1, "x2": 0, "y2": 0,
        "stops": [{"offset": 0, "color": "#8000ff"}, {"offset": 0.125, "color": "#4062fa"}, {"offset": 0.25, "color": "#00b4ec"}, {"offset": 0.375, "color": "#40ecd4"}, {"offset": 0.5, "color": "#80ffb4"}, {"offset": 0.625, "color": "#bfec8e"}, {"offset": 0.75, "color": "#ffb462"}, {"offset": 0.875, "color": "#ff6232"}, {"offset": 1, "color": "#ff0000"}]}},
      "encoding": {
        "y": {"field": "lo", "type": "quantitative",
              "scale": {"type": "log", "domain": [1, 10000], "nice": false},
              "axis": {"orient": "right", "grid": false, "values": [1, 10, 100, 1000, 10000], "labelPadding": 4,
                       "labelExpr": "'10' + ['⁰','¹','²','³','⁴'][round(log(datum.value)/LN10)]",
                       "title": "Count [min⁻¹ mm⁻¹]", "titleAngle": 270, "titleBaseline": "top", "titlePadding": 6}},
        "y2": {"field": "hi"}
      }
    },
    {
      "width": 766, "height": 304,
      "data": {"name": "vel"},
      "mark": {"type": "rect", "clip": true, "strokeWidth": 0},
      "encoding": {
        "x": {"field": "t0", "type": "temporal",
              "scale": {"type": "utc", "domain": [1689379200000, 1689465600000]},
              "axis": {"title": "Time [UTC]", "titlePadding": 6, "zindex": 1, "labelFlush": false, "labelOverlap": false, "labelPadding": 3, "labelLineHeight": 16,
                       "values": [1689379200000,1689386400000,1689393600000,1689400800000,1689408000000,1689415200000,1689422400000,1689429600000,1689436800000,1689444000000,1689451200000,1689458400000,1689465600000],
                       "labelExpr": "utchours(datum.value) == 0 ? [utcFormat(datum.value, '%H'), utcFormat(datum.value, '%Y-%m-%d')] : utcFormat(datum.value, '%H')"}},
        "x2": {"field": "t1"},
        "y": {"field": "lo", "type": "quantitative",
              "scale": {"domain": [0, 13], "nice": false, "zero": false},
              "axis": {"title": "v [m/s]", "zindex": 1, "values": [0,2,4,6,8,10,12], "labelPadding": 5}},
        "y2": {"field": "hi"},
        "color": {"field": "n", "type": "quantitative", "legend": null,
                  "scale": {"type": "log", "domain": [1, 3.1623, 10, 31.623, 100, 316.23, 1000, 3162.3, 10000],
                            "range": ["#8000ff", "#4062fa", "#00b4ec", "#40ecd4", "#80ffb4", "#bfec8e", "#ffb462", "#ff6232", "#ff0000"],
                            "interpolate": "rgb"}}
      }
    },
    {
      "width": 15, "height": 304,
      "data": {"name": "cbar"},
      "mark": {"type": "rect", "fill": {"gradient": "linear", "x1": 0, "y1": 1, "x2": 0, "y2": 0,
        "stops": [{"offset": 0, "color": "#8000ff"}, {"offset": 0.125, "color": "#4062fa"}, {"offset": 0.25, "color": "#00b4ec"}, {"offset": 0.375, "color": "#40ecd4"}, {"offset": 0.5, "color": "#80ffb4"}, {"offset": 0.625, "color": "#bfec8e"}, {"offset": 0.75, "color": "#ffb462"}, {"offset": 0.875, "color": "#ff6232"}, {"offset": 1, "color": "#ff0000"}]}},
      "encoding": {
        "y": {"field": "lo", "type": "quantitative",
              "scale": {"type": "log", "domain": [1, 10000], "nice": false},
              "axis": {"orient": "right", "grid": false, "values": [1, 10, 100, 1000, 10000], "labelPadding": 4,
                       "labelExpr": "'10' + ['⁰','¹','²','³','⁴'][round(log(datum.value)/LN10)]",
                       "title": "Count [min⁻¹ (m/s)⁻¹]", "titleAngle": 270, "titleBaseline": "top", "titlePadding": 6}},
        "y2": {"field": "hi"}
      }
    }
  ]
}
